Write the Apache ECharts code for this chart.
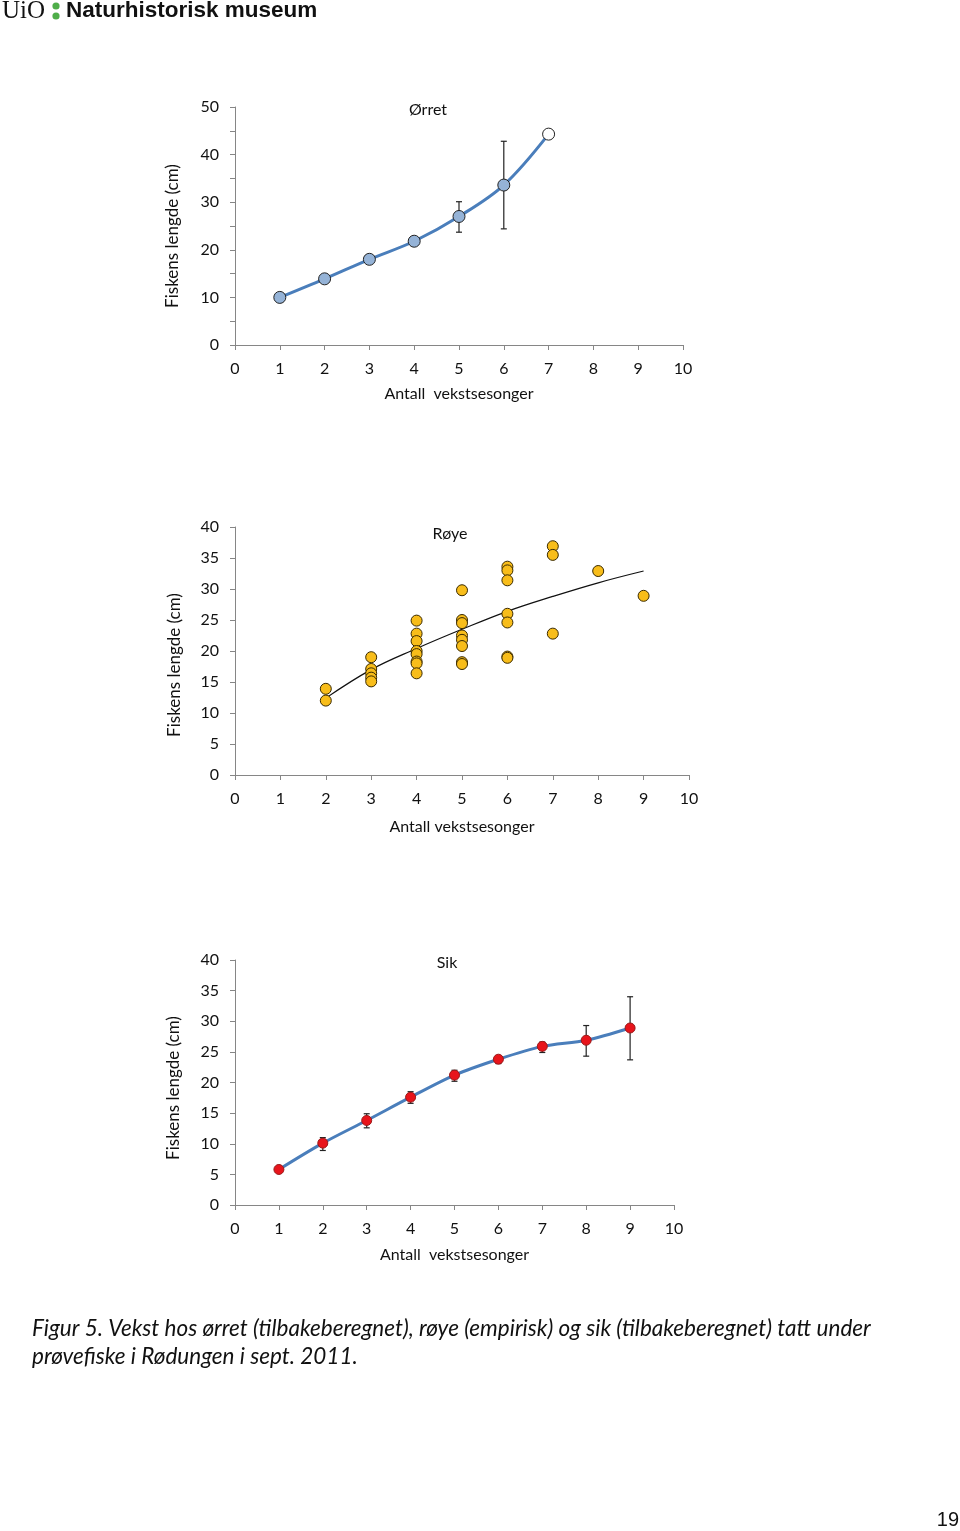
<!DOCTYPE html>
<html>
<head>
<meta charset="utf-8">
<script src="https://cdn.jsdelivr.net/npm/echarts@6/dist/echarts.min.js"></script>
<style>
html,body{margin:0;padding:0;background:#fff;}
#c{width:960px;height:1531px;}
</style>
</head>
<body>
<div id="c"></div>
<script>
// ---------- DATA ----------
const xTicks = [0,1,2,3,4,5,6,7,8,9,10];

// Ørret (back-calculated mean length per growth season)
const orretSeasons = [1,2,3,4,5,6,7];
const orretLength  = [10.0,13.9,18.0,21.8,27.0,33.6,44.3];
const orretErrSeason = [5,6];
const orretErrLow    = [23.7,24.4];
const orretErrHigh   = [30.1,42.8];

// Røye (empirical, individual fish)
const royeSeasons = [2,2, 3,3,3,3,3, 4,4,4,4,4,4,4,4, 5,5,5,5,5,5,5,5, 6,6,6,6,6,6,6, 7,7,7, 8, 9];
const royeLength  = [13.9,12.0, 19.0,17.1,16.4,15.7,15.1, 24.9,22.8,21.6,20.0,19.5,18.3,18.0,16.4,
                     29.8,25.0,24.5,22.5,21.8,20.8,18.2,17.9, 33.6,33.0,31.4,26.0,24.6,19.1,18.9,
                     36.9,35.5,22.8, 32.9, 28.9];
// Røye trend line
const royeTrendSeasons = [2,3,4,5,6,7,8,9];
const royeTrendLength  = [12.4,17.0,20.4,23.5,26.4,28.8,31.0,32.9];

// Sik (back-calculated)
const sikSeasons = [1,2,3,4,5,6,7,8,9];
const sikLength  = [5.8,10.1,13.8,17.6,21.2,23.8,25.9,26.9,28.9];
const sikErrLow  = [5.8,8.9,12.6,16.6,20.2,23.1,24.9,24.3,23.7];
const sikErrHigh = [5.8,11.0,14.9,18.5,22.0,24.4,26.6,29.3,34.0];

const yTitle = 'Fiskens lengde (cm)';
const xTitle1 = 'Antall  vekstsesonger';
const xTitle2 = 'Antall vekstsesonger';
const xTitle3 = 'Antall  vekstsesonger';

// ---------- CHART ----------
const FONT = 'Lato';
const AX = '#868686';
const TXT = '#111';

function xAxis(gi, name, gap){
  return {
    type:'value', gridIndex:gi, min:0, max:10, interval:1,
    name:name, nameLocation:'middle', nameGap:gap,
    nameTextStyle:{fontFamily:FONT,fontSize:16,color:TXT},
    axisLine:{lineStyle:{color:AX,width:1}},
    axisTick:{show:true,inside:false,length:5,lineStyle:{color:AX}},
    axisLabel:{fontFamily:FONT,fontSize:16,color:TXT,margin:16},
    splitLine:{show:false}
  };
}
function yAxis(gi, max, labelEvery){
  return {
    type:'value', gridIndex:gi, min:0, max:max, interval:5,
    axisLine:{show:true,lineStyle:{color:AX,width:1}},
    axisTick:{show:true,inside:false,length:5,lineStyle:{color:AX}},
    axisLabel:{fontFamily:FONT,fontSize:16,color:TXT,margin:16,
      formatter:function(v){return (v % labelEvery === 0) ? String(v) : '';}},
    splitLine:{show:false}
  };
}

function errSeries(xi, yi, xs, lo, hi){
  const data = xs.map((x,i)=>[x, lo[i], hi[i]]);
  return {
    type:'custom', xAxisIndex:xi, yAxisIndex:yi, z:2, silent:true,
    data:data,
    renderItem:function(params, api){
      const x = api.value(0);
      const a = api.coord([x, api.value(1)]);
      const b = api.coord([x, api.value(2)]);
      const w = 3;
      const st = {stroke:'#222', lineWidth:1.2};
      return {type:'group', children:[
        {type:'line', shape:{x1:a[0],y1:a[1],x2:b[0],y2:b[1]}, style:st},
        {type:'line', shape:{x1:a[0]-w,y1:a[1],x2:a[0]+w,y2:a[1]}, style:st},
        {type:'line', shape:{x1:b[0]-w,y1:b[1],x2:b[0]+w,y2:b[1]}, style:st}
      ]};
    }
  };
}

const orretData = orretSeasons.map((x,i)=>{
  const d = {value:[x, orretLength[i]]};
  if (i === orretSeasons.length-1) d.itemStyle = {color:'#ffffff', borderColor:'#222', borderWidth:1};
  return d;
});

function yName(x, y){
  return {type:'text', x:x, y:y, rotation:Math.PI/2,
    style:{text:yTitle, font:'17px Lato', fill:TXT, textAlign:'center', textVerticalAlign:'middle'}};
}

const option = {
  backgroundColor:'#ffffff',
  animation:false,
  grid:[
    {left:235, top:107, width:448, height:238},
    {left:235, top:527, width:454, height:248},
    {left:235, top:960, width:439, height:245}
  ],
  xAxis:[xAxis(0,xTitle1,41), xAxis(1,xTitle2,44), xAxis(2,xTitle3,42)],
  yAxis:[yAxis(0,50,10), yAxis(1,40,5), yAxis(2,40,5)],
  series:[
    errSeries(0,0,orretErrSeason,orretErrLow,orretErrHigh),
    {
      type:'line', xAxisIndex:0, yAxisIndex:0, z:3, smooth:0.35,
      data:orretData, symbol:'circle', symbolSize:12,
      lineStyle:{color:'#4a7ebb', width:3},
      itemStyle:{color:'#95b3d7', borderColor:'#222', borderWidth:1}
    },
    {
      type:'line', xAxisIndex:1, yAxisIndex:1, z:2, smooth:0.4, symbol:'none',
      data:royeTrendSeasons.map((x,i)=>[x, royeTrendLength[i]]),
      lineStyle:{color:'#111', width:1.2}
    },
    {
      type:'scatter', xAxisIndex:1, yAxisIndex:1, z:3,
      data:royeSeasons.map((x,i)=>[x, royeLength[i]]),
      symbol:'circle', symbolSize:11,
      itemStyle:{color:'#f8bd1a', borderColor:'#3a2a00', borderWidth:1, opacity:1}
    },
    errSeries(2,2,sikSeasons,sikErrLow,sikErrHigh),
    {
      type:'line', xAxisIndex:2, yAxisIndex:2, z:3, smooth:0.3,
      data:sikSeasons.map((x,i)=>[x, sikLength[i]]),
      symbol:'circle', symbolSize:10,
      lineStyle:{color:'#4a7ebb', width:3},
      itemStyle:{color:'#e8141b', borderColor:'#9a1a1a', borderWidth:1}
    }
  ],
  graphic:[
    // header
    {type:'text', x:2, y:11, style:{text:'UiO', font:'25px "Liberation Serif"', fill:'#111', textVerticalAlign:'middle'}},
    {type:'circle', shape:{cx:56, cy:6, r:3.6}, style:{fill:'#4fae4a'}},
    {type:'circle', shape:{cx:56, cy:16, r:3.6}, style:{fill:'#4fae4a'}},
    {type:'text', x:66, y:11, style:{text:'Naturhistorisk museum', font:'bold 22.5px "Liberation Sans"', fill:'#111', textVerticalAlign:'middle'}},
    // y-axis names
    yName(173, 236), yName(175, 665), yName(174, 1088),
    // titles
    {type:'text', x:428, y:110, style:{text:'Ørret', font:'16px Lato', fill:TXT, textAlign:'center', textVerticalAlign:'middle'}},
    {type:'text', x:450, y:534, style:{text:'Røye', font:'16px Lato', fill:TXT, textAlign:'center', textVerticalAlign:'middle'}},
    {type:'text', x:447, y:963, style:{text:'Sik', font:'16px Lato', fill:TXT, textAlign:'center', textVerticalAlign:'middle'}},
    // caption
    {type:'text', x:32, y:1329, style:{text:'Figur 5. Vekst hos ørret (tilbakeberegnet), røye (empirisk) og sik (tilbakeberegnet) tatt under', font:'italic 22.5px Lato', fill:'#111', textVerticalAlign:'middle'}},
    {type:'text', x:32, y:1357, style:{text:'prøvefiske i Rødungen i sept. 2011.', font:'italic 22.5px Lato', fill:'#111', textVerticalAlign:'middle'}},
    // page number
    {type:'text', x:959, y:1520, style:{text:'19', font:'20px "Liberation Sans"', fill:'#111', textAlign:'right', textVerticalAlign:'middle'}}
  ]
};

const chart = echarts.init(document.getElementById('c'), null, {renderer:'canvas'});
chart.setOption(option);
</script>
</body>
</html>
